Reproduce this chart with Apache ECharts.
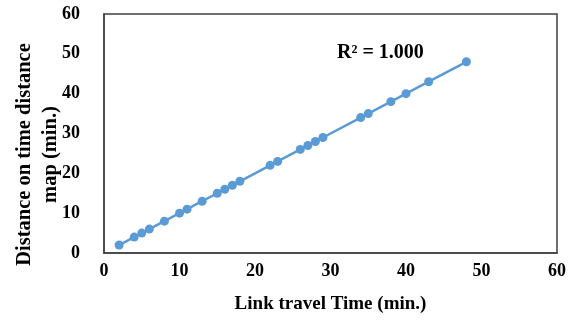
<!DOCTYPE html>
<html>
<head>
<meta charset="utf-8">
<script src="https://cdn.jsdelivr.net/npm/echarts@6/dist/echarts.min.js"></script>
<style>html,body{margin:0;padding:0;background:#fff}#c{width:574px;height:323px}</style>
</head>
<body>
<div id="c"></div>
<script>
var linkTravelTime = [2,4,5,6,8,10,11,13,15,16,17,18,22,23,26,27,28,29,34,35,38,40,43,48];
var mapDistance    = [2,4,5,6,8,10,11,13,15,16,17,18,22,23,26,27,28,29,34,35,38,40,43,48];
var xTitle = 'Link travel Time (min.)';
var yTitle = 'Distance on time distance\nmap (min.)';
var r2Label = 'R\u00B2 = 1.000';

var pts = linkTravelTime.map(function(v,i){return [v, mapDistance[i]];});
var font = '"Liberation Serif","Times New Roman",serif';
var chart = echarts.init(document.getElementById('c'), null, {renderer:'canvas'});
chart.setOption({
  animation:false,
  grid:{left:104,right:17,top:14,bottom:70,show:true,borderColor:'#404040',borderWidth:1.5,
    containLabel:false,outerBoundsMode:'none'},
  xAxis:{type:'value',min:0,max:60,interval:10,
    axisLine:{show:true,lineStyle:{color:'#404040',width:1.5}},axisTick:{show:false},splitLine:{show:false},
    axisLabel:{color:'#000',fontFamily:font,fontWeight:'bold',fontSize:18,margin:9},
    name:xTitle,nameLocation:'middle',nameGap:42,nameMoveOverlap:false,
    nameTextStyle:{color:'#000',fontFamily:font,fontWeight:'bold',fontSize:19}},
  yAxis:{type:'value',min:0,max:60,interval:10,
    axisLine:{show:true,lineStyle:{color:'#404040',width:1.5}},axisTick:{show:false},splitLine:{show:false},
    axisLabel:{color:'#000',fontFamily:font,fontWeight:'bold',fontSize:18,margin:24},
    name:yTitle,nameLocation:'middle',nameGap:40,nameMoveOverlap:false,
    nameTextStyle:{color:'#000',fontFamily:font,fontWeight:'bold',fontSize:20.5,lineHeight:26,padding:[0,42,0,0]}},
  series:[{type:'line',data:pts,symbol:'circle',symbolSize:9,
    itemStyle:{color:'#5B9BD5'},lineStyle:{color:'#5B9BD5',width:2.5}}],
  graphic:[{type:'text',left:337,top:43,style:{text:r2Label,fill:'#000',font:'bold 20px '+font}}]
});
</script>
</body>
</html>
